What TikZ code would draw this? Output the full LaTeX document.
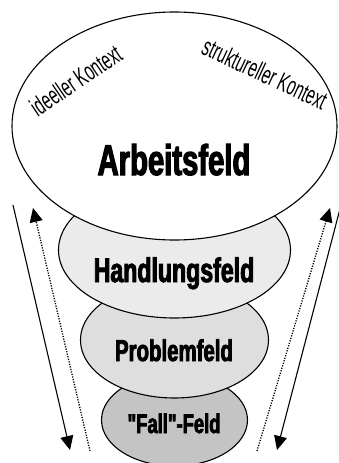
\documentclass[tikz,border=0pt]{standalone}
\usepackage{fontspec}
\setmainfont{Liberation Sans}
\newfontfamily\narrowfont[FakeStretch=0.58]{Liberation Sans}
\newfontfamily\heavyfont[FakeStretch=0.68,FakeBold=2.6]{Liberation Sans}
\usetikzlibrary{shapes.geometric,arrows.meta}
\begin{document}
\begin{tikzpicture}[x=1pt,y=-1pt,
  field/.style={ellipse, draw=black, line width=1.1pt, inner sep=0pt},
  lbl/.style={anchor=base, inner sep=0pt},
  ctx/.style={anchor=base, inner sep=0pt, font=\narrowfont\fontsize{26}{30}\selectfont},
  solidarrow/.style={line width=1.1pt, -{Triangle[length=14pt,width=13pt]}},
  dotarrow/.style={line width=1.3pt, dash pattern=on 1.2pt off 1.4pt, -{Triangle[length=14pt,width=13pt]}}
]
\useasboundingbox (0,0) rectangle (339,463);
% fields, bottom first
\node[field, fill=black!23, minimum width=146pt, minimum height=92pt] (fall) at (174.5,420) {};
\node[field, fill=black!13, minimum width=188pt, minimum height=116pt] (problem) at (174.5,340) {};
\node[field, fill=black!8, minimum width=232pt, minimum height=136pt] (handlung) at (174.5,250) {};
\node[field, fill=white, minimum width=325pt, minimum height=228pt] (arbeit) at (174.5,126) {};
% labels
\node[lbl, font=\heavyfont\bfseries\fontsize{43}{48}\selectfont] (tarbeit) at (174,175) {Arbeitsfeld};
\node[lbl, font=\heavyfont\bfseries\fontsize{34}{38}\selectfont] (thandlung) at (174,282) {Handlungsfeld};
\node[lbl, font=\heavyfont\bfseries\fontsize{30}{34}\selectfont] (tproblem) at (174,361) {Problemfeld};
\node[lbl, font=\heavyfont\bfseries\fontsize{27}{30}\selectfont] (tfall) at (174,433) {"Fall"-Feld};
% context texts
\node[ctx, rotate=34] (tideell) at (81,88) {ideeller Kontext};
\node[ctx, rotate=-25] (tstrukt) at (261,82) {struktureller Kontext};
% arrows
\coordinate (ls1) at (13,205);
\coordinate (ls2) at (70,450);
\coordinate (ld1) at (90,451);
\coordinate (ld2) at (33,208);
\coordinate (rd1) at (257,451);
\coordinate (rd2) at (330,208);
\coordinate (rs1) at (341,205);
\coordinate (rs2) at (277,450);
\draw[solidarrow] (ls1) -- (ls2);
\draw[dotarrow] (ld1) -- (ld2);
\draw[dotarrow] (rd1) -- (rd2);
\draw[solidarrow] (rs1) -- (rs2);
\end{tikzpicture}
\end{document}
